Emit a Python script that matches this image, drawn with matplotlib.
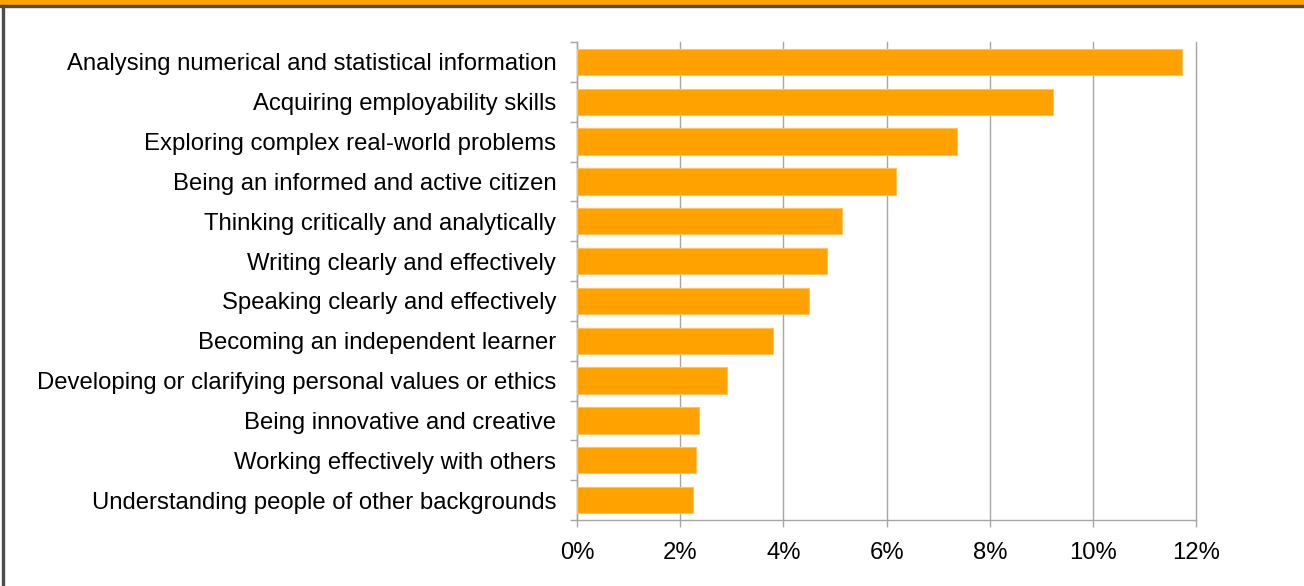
import numpy as np
import matplotlib.pyplot as plt
from matplotlib.ticker import FixedLocator, FuncFormatter

plt.rcParams['font.family'] = ['Liberation Sans', 'DejaVu Sans']

skills = [
    "Analysing numerical and statistical information",
    "Acquiring employability skills",
    "Exploring complex real-world problems",
    "Being an informed and active citizen",
    "Thinking critically and analytically",
    "Writing clearly and effectively",
    "Speaking clearly and effectively",
    "Becoming an independent learner",
    "Developing or clarifying personal values or ethics",
    "Being innovative and creative",
    "Working effectively with others",
    "Understanding people of other backgrounds",
]
share = [11.72, 9.23, 7.36, 6.18, 5.14, 4.85, 4.49, 3.80, 2.91, 2.37, 2.30, 2.25]
xticks = [0, 2, 4, 6, 8, 10, 12]

bar_color = '#FFA200'
grid_color = '#A6A6A6'

fig = plt.figure(figsize=(13.04, 5.86), dpi=100)
ax = fig.add_axes([577 / 1304, 1 - 520 / 586, (1196.3 - 577) / 1304, (520 - 42) / 586])

y = np.arange(len(skills))
ax.barh(y, share, height=0.66, color=bar_color, edgecolor='#FFC25A', linewidth=0.8, zorder=3)

ax.set_xlim(0, 12)
ax.set_ylim(len(skills) - 0.5, -0.5)

ax.set_xticks(xticks)
ax.xaxis.set_major_formatter(FuncFormatter(lambda v, p: f"{v:.0f}%"))
ax.grid(axis='x', color=grid_color, linewidth=1.0, zorder=0)
for gl in ax.get_xgridlines():
    gl.set_clip_on(False)
ax.tick_params(axis='x', length=5, width=1, color=grid_color, labelsize=17.2, pad=11)

ax.set_yticks(y)
ax.set_yticklabels(skills)
ax.tick_params(axis='y', which='major', length=0, labelsize=17.2, pad=15)
ax.yaxis.set_minor_locator(FixedLocator(np.arange(-0.5, len(skills), 1.0)))
ax.tick_params(axis='y', which='minor', length=5, width=1, color=grid_color)

for side in ['top', 'right']:
    ax.spines[side].set_visible(False)
for side in ['left', 'bottom']:
    ax.spines[side].set_color(grid_color)
    ax.spines[side].set_linewidth(1.0)

# frame: orange strip along the top, dark rule under it and down the left edge
fig.patches.append(plt.Rectangle((0, 1 - 5 / 586), 1, 5 / 586, transform=fig.transFigure,
                                 color=bar_color, zorder=0))
fig.patches.append(plt.Rectangle((0, 1 - 7 / 586), 1, 2.2 / 586, transform=fig.transFigure,
                                 color='#4D4D4D', zorder=0))
fig.patches.append(plt.Rectangle((1.5 / 1304, 0), 2.2 / 1304, 1 - 5 / 586, transform=fig.transFigure,
                                 color='#4D4D4D', zorder=0))

fig.savefig("out.png", dpi=100)
